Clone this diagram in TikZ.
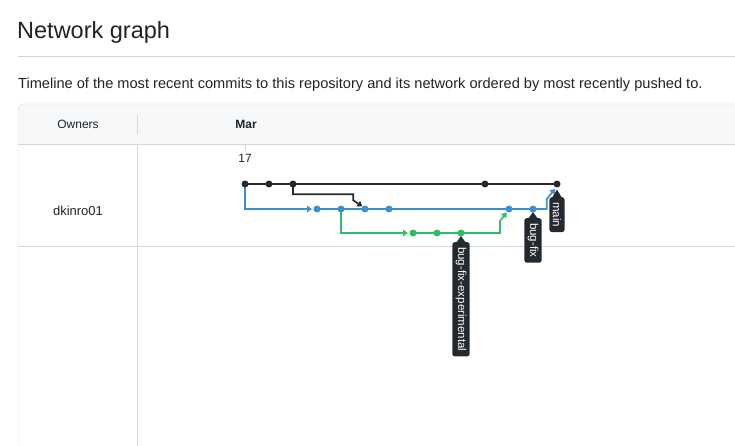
\documentclass[tikz,border=0pt]{standalone}
\usepackage{fontspec}
\setmainfont{Liberation Sans}
\usetikzlibrary{arrows.meta,calc}
\definecolor{ghtext}{HTML}{1F2328}
\definecolor{ghblack}{HTML}{24292F}
\definecolor{ghblue}{HTML}{3A8FD6}
\definecolor{ghgreen}{HTML}{2EBF66}
\definecolor{ghline}{HTML}{D0D7DE}
\definecolor{ghhead}{HTML}{F6F8FA}
\tikzset{
	commit/.style={circle,fill=#1,inner sep=0pt,minimum size=7pt},
	branch/.style={draw=#1,line width=1.7pt},
	mergeline/.style={draw=#1,line width=1.7pt,-{Triangle[length=5pt,width=6.5pt]}},
	reflabel/.style={rotate=-90,anchor=west,fill=ghblack,text=white,rounded corners=2.5pt,
		font=\fontsize{11.5}{11.5}\selectfont,inner xsep=5pt,inner ysep=3.3pt},
}
\begin{document}
\begin{tikzpicture}[x=1pt,y=-1pt]
				\useasboundingbox (0,0) rectangle (735,446);
				% heading
				\node[anchor=base west,inner sep=0pt,text=ghtext,font=\fontsize{23.5}{28}\selectfont] (title) at (17,39) {Network graph};
				\draw[ghline] (18,56) -- (735,56);
				\node[anchor=base west,inner sep=0pt,text=ghtext,font=\fontsize{14.6}{17}\selectfont] (intro) at (18,89) {Timeline of the most recent commits to this repository and its network ordered by most recently pushed to.};
				% table
				\begin{scope}
					\clip (0,0) rectangle (735,144);
					\fill[ghhead,rounded corners=6pt] (18,104) rectangle (760,170);
				\end{scope}
				\draw[ghline,rounded corners=6pt] (18,446) -- (18,104) -- (735,104);
				\draw[ghline] (18,144) -- (735,144);
				\draw[ghline] (18,246) -- (735,246);
				\draw[ghline] (137,144) -- (137,446);
				\draw[ghline] (137,115) -- (137,134);
				\draw[ghline] (245,144) -- (245,151);
				\node[text=ghtext,font=\fontsize{12}{14}\selectfont] (owners) at (78,124) {Owners};
				\node[text=ghtext,font=\fontsize{12}{14}\selectfont\bfseries] (month) at (246,124) {Mar};
				\node[text=ghtext,font=\fontsize{12}{14}\selectfont] (day) at (245,158) {17};
				\node[text=ghtext,font=\fontsize{13}{15}\selectfont] (owner) at (78,211) {dkinro01};
				% commits
				\coordinate (m0) at (245,184);
				\coordinate (m1) at (269,184);
				\coordinate (m2) at (293,184);
				\coordinate (m3) at (485,184);
				\coordinate (m4) at (557,184);
				\coordinate (b0) at (317,209);
				\coordinate (b1) at (341,209);
				\coordinate (b2) at (365,209);
				\coordinate (b3) at (389,209);
				\coordinate (b4) at (509,209);
				\coordinate (b5) at (533,209);
				\coordinate (g0) at (413,233);
				\coordinate (g1) at (437,233);
				\coordinate (g2) at (461,233);
				% branch lines
				\draw[branch=ghblack] (m0) -- (m4);
				\draw[mergeline=ghblack] (m2) -- ++(0,10.3) -- ++(60.3,0) -- ++(0,6) -- ($(b2)+(-2.7,-2.5)$);
				\draw[mergeline=ghblue,shorten >=5pt] (m0) |- (b0);
				\draw[branch=ghblue] (b0) -- (b5);
				\draw[mergeline=ghblue] (b5) -- ++(13.7,0) -- ++(0,-10) -- ($(m4)+(-1.8,4.8)$);
				\draw[mergeline=ghgreen,shorten >=5pt] (b1) |- (g0);
				\draw[branch=ghgreen] (g0) -- (g2);
				\draw[mergeline=ghgreen] (g2) -- ++(39,0) -- ++(0,-12) -- ($(b4)+(-2.3,3.3)$);
				\node[commit=ghblack] (c0) at (m0) {};
				\node[commit=ghblack] (c1) at (m1) {};
				\node[commit=ghblack] (c2) at (m2) {};
				\node[commit=ghblack] (c3) at (m3) {};
				\node[commit=ghblack] (c4) at (m4) {};
				\node[commit=ghblue] (c5) at (b0) {};
				\node[commit=ghblue] (c6) at (b1) {};
				\node[commit=ghblue] (c7) at (b2) {};
				\node[commit=ghblue] (c8) at (b3) {};
				\node[commit=ghblue] (c9) at (b4) {};
				\node[commit=ghblue] (c10) at (b5) {};
				\node[commit=ghgreen] (c11) at (g0) {};
				\node[commit=ghgreen] (c12) at (g1) {};
				\node[commit=ghgreen] (c13) at (g2) {};
				% branch labels
				\node[reflabel] (lmain) at ($(m4)+(0,13)$) {main};
				\fill[ghblack] ($(lmain.west)+(-5,1)$) -- ($(lmain.west)+(0,-7.5)$) -- ($(lmain.west)+(5,1)$) -- cycle;
				\node[reflabel] (lfix) at ($(b5)+(0,9)$) {bug-fix};
				\fill[ghblack] ($(lfix.west)+(-5,1)$) -- ($(lfix.west)+(0,-6)$) -- ($(lfix.west)+(5,1)$) -- cycle;
				\node[reflabel] (lexp) at ($(g2)+(0,9)$) {bug-fix-experimental};
				\fill[ghblack] ($(lexp.west)+(-5,1)$) -- ($(lexp.west)+(0,-6)$) -- ($(lexp.west)+(5,1)$) -- cycle;
			\end{tikzpicture}
\end{document}
